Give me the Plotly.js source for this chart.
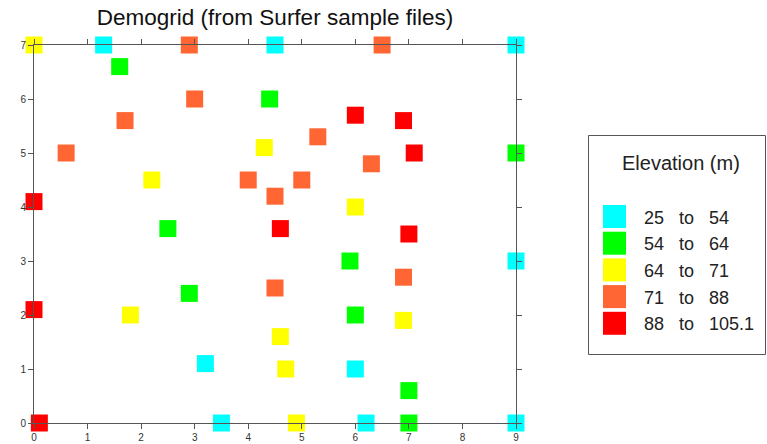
<!DOCTYPE html>
<html>
<head>
<meta charset="utf-8">
<script src="https://cdn.plot.ly/plotly-3.0.1.min.js"></script>
<style>html,body{margin:0;padding:0;background:#fff;}</style>
</head>
<body>
<div id="chart" style="width:767px;height:444px;"></div>
<script>
// Elevation classes (legend) and colours
const classLow  = ["25", "54", "64", "71", "88"];
const classHigh = ["54", "64", "71", "88", "105.1"];
const classColors = ["#00FFFF", "#00FF00", "#FFFF00", "#FF6633", "#FF0000"];

// Sample points per elevation class (x, y)
const cyanX   = [1.3, 4.5, 9, 9, 3.2, 6, 3.5, 6.2, 9];
const cyanY   = [7, 7, 7, 3, 1.1, 1, 0, 0, 0];
const greenX  = [1.6, 4.4, 9, 2.5, 5.9, 2.9, 6, 7, 7];
const greenY  = [6.6, 6, 5, 3.6, 3, 2.4, 2, 0.6, 0];
const yellowX = [0, 4.3, 2.2, 6, 1.8, 6.9, 4.6, 4.7, 4.9];
const yellowY = [7, 5.1, 4.5, 4, 2, 1.9, 1.6, 1, 0];
const orangeX = [2.9, 6.5, 3, 1.7, 0.6, 5.3, 6.3, 4, 5, 4.5, 4.5, 6.9];
const orangeY = [7, 7, 6, 5.6, 5, 5.3, 4.8, 4.5, 4.5, 4.2, 2.5, 2.7];
const redX    = [6, 6.9, 7.1, 0, 4.6, 7, 0, 0.1];
const redY    = [5.7, 5.6, 5, 4.1, 3.6, 3.5, 2.1, 0];

const xTicks = [0, 1, 2, 3, 4, 5, 6, 7, 8, 9];
const yTicks = [0, 1, 2, 3, 4, 5, 6, 7];

const xs = [cyanX, greenX, yellowX, orangeX, redX];
const ys = [cyanY, greenY, yellowY, orangeY, redY];

const FONT = "Liberation Sans, Arial, sans-serif";
const NB = "\u00a0\u00a0\u00a0";

const traces = xs.map((x, i) => ({
  type: "scatter",
  mode: "markers",
  x: x,
  y: ys[i],
  name: classLow[i] + " to " + classHigh[i],
  showlegend: false,
  cliponaxis: false,
  marker: { symbol: "square", size: 17, color: classColors[i], line: { width: 0 } }
}));

// plot area in pixels: left 34, right 516, top 45, bottom 423
const PL = 34, PR = 516, PT = 45, PB = 423;
const px = v => (v - PL) / (PR - PL);
const py = v => (PB - v) / (PB - PT);

// Legend drawn as paper-anchored shapes and annotations
const shapes = [{
  type: "rect", xref: "paper", yref: "paper",
  x0: px(588.5), x1: px(765.5), y0: py(354.5), y1: py(135.5),
  line: { color: "#555", width: 1 }, fillcolor: "#fff", layer: "below"
}];
const annotations = [{
  xref: "paper", yref: "paper", x: px(681), y: py(163),
  xanchor: "center", yanchor: "middle", showarrow: false,
  text: "Elevation (m)", font: { family: FONT, size: 20, color: "#222" }
}];
classLow.forEach((lo, i) => {
  const cy = 216.5 + i * 26.7;
  shapes.push({
    type: "rect", xref: "paper", yref: "paper",
    x0: px(603), x1: px(626), y0: py(cy + 11.5), y1: py(cy - 11.5),
    line: { width: 0 }, fillcolor: classColors[i]
  });
  annotations.push({
    xref: "paper", yref: "paper", x: px(642), y: py(cy + 1),
    xanchor: "left", yanchor: "middle", showarrow: false,
    text: lo + NB + "to" + NB + classHigh[i],
    font: { family: FONT, size: 18, color: "#222" }
  });
});

const axisCommon = {
  showgrid: false,
  zeroline: false,
  showline: true,
  linecolor: "#555",
  linewidth: 1,
  mirror: "ticks",
  ticks: "outside",
  ticklen: 5,
  tickwidth: 1,
  tickcolor: "#555",
  tickfont: { family: FONT, size: 10, color: "#333" },
  fixedrange: true
};

const layout = {
  width: 767,
  height: 444,
  margin: { l: 34, r: 251, t: 45, b: 21 },
  paper_bgcolor: "#fff",
  plot_bgcolor: "#fff",
  font: { family: FONT, color: "#222" },
  title: {
    text: "Demogrid (from Surfer sample files)",
    font: { size: 22.5, color: "#111", family: FONT },
    x: 0.5, xref: "paper", xanchor: "center",
    y: 1 - 17 / 444, yref: "container", yanchor: "middle"
  },
  xaxis: Object.assign({}, axisCommon, { range: [0, 9], tickvals: xTicks, ticktext: xTicks.map(String) }),
  yaxis: Object.assign({}, axisCommon, { range: [0, 7], tickvals: yTicks, ticktext: yTicks.map(String) }),
  showlegend: false,
  shapes: shapes,
  annotations: annotations
};

Plotly.newPlot("chart", traces, layout, { displayModeBar: false, staticPlot: true });
</script>
</body>
</html>
